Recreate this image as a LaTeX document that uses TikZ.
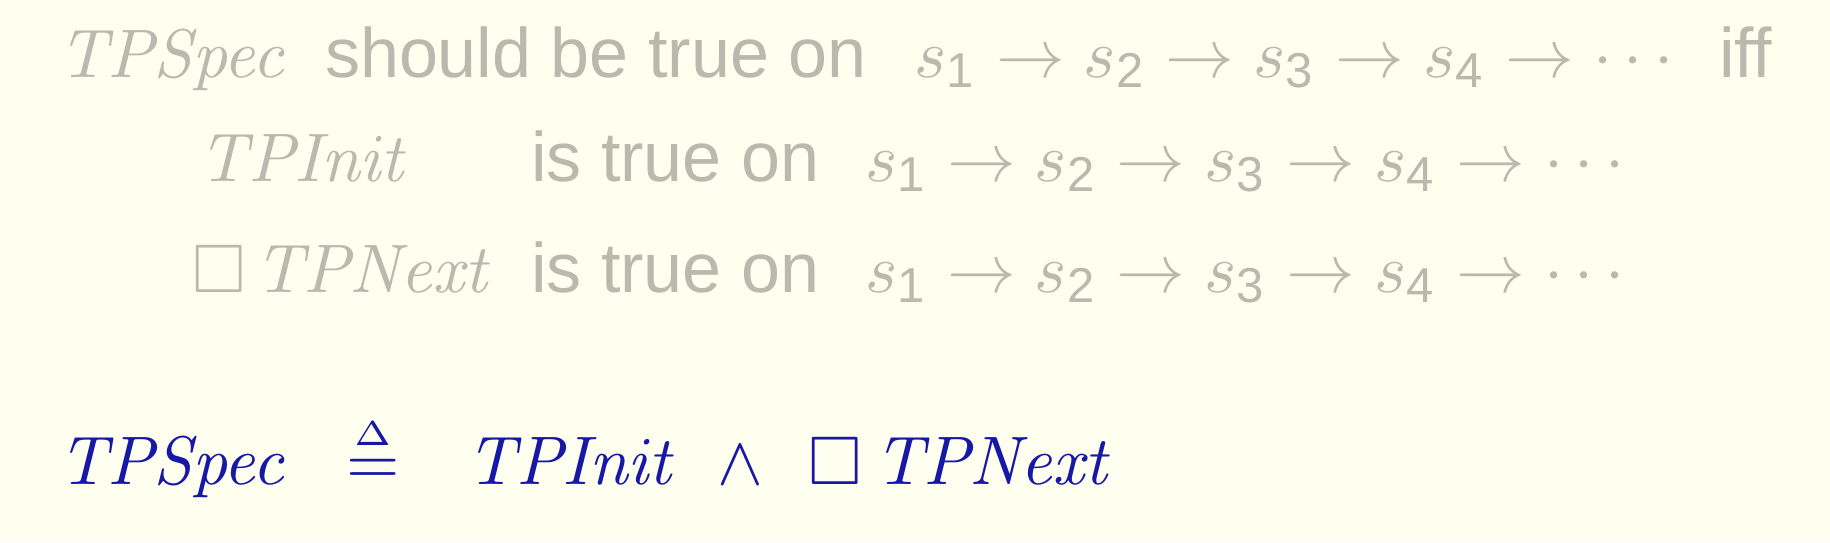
\documentclass[tikz,border=0pt]{standalone}
\usepackage{amsmath,amssymb}
\usepackage[no-math]{fontspec}
\setmainfont[Scale=1.02]{Liberation Sans}
\definecolor{bgcol}{RGB}{255,255,240}
\definecolor{fadegray}{RGB}{186,185,173}
\definecolor{tpblue}{RGB}{24,24,168}
\newcommand{\stateseq}{$s_{\text{1}} \rightarrow s_{\text{2}} \rightarrow s_{\text{3}} \rightarrow s_{\text{4}} \rightarrow \cdots$}
\begin{document}
\begin{tikzpicture}[x=0.14556pt,y=-0.14556pt,
  txt/.style={anchor=base west,inner sep=0pt,outer sep=0pt},
  faded/.style={txt,text=fadegray},
  defn/.style={txt,text=tpblue}]
\fill[bgcol] (0,0) rectangle (1830,542);
\useasboundingbox (0,0) rectangle (1830,542);
% row 1
\node[faded] (r1a) at (58,77) {$\mathit{TPSpec}$};
\node[faded] (r1b) at (325,77) {should be true on};
\node[faded] (r1c) at (914,77) {\stateseq};
\node[faded] (r1d) at (1719,77) {iff};
% row 2
\node[faded] (r2a) at (199,181) {$\mathit{TPInit}$};
\node[faded] (r2b) at (531,181) {is true on};
\node[faded] (r2c) at (865,181) {\stateseq};
% row 3
\node[faded] (r3box) at (193,292) {$\Box$};
\node[faded] (r3a) at (254,292) {$\mathit{TPNext}$};
\node[faded] (r3b) at (531,292) {is true on};
\node[faded] (r3c) at (865,292) {\stateseq};
% row 4
\node[defn] (d1) at (58,484) {$\mathit{TPSpec}$};
\node[defn] (d2) at (346,484) {$\stackrel{\scriptscriptstyle\Delta}{=}$};
\node[defn] (d3) at (467,484) {$\mathit{TPInit}$};
\node[defn] (d4) at (717,484) {$\wedge$};
\node[defn] (d5) at (808,484) {$\Box$};
\node[defn] (d6) at (874,484) {$\mathit{TPNext}$};
\end{tikzpicture}
\end{document}
